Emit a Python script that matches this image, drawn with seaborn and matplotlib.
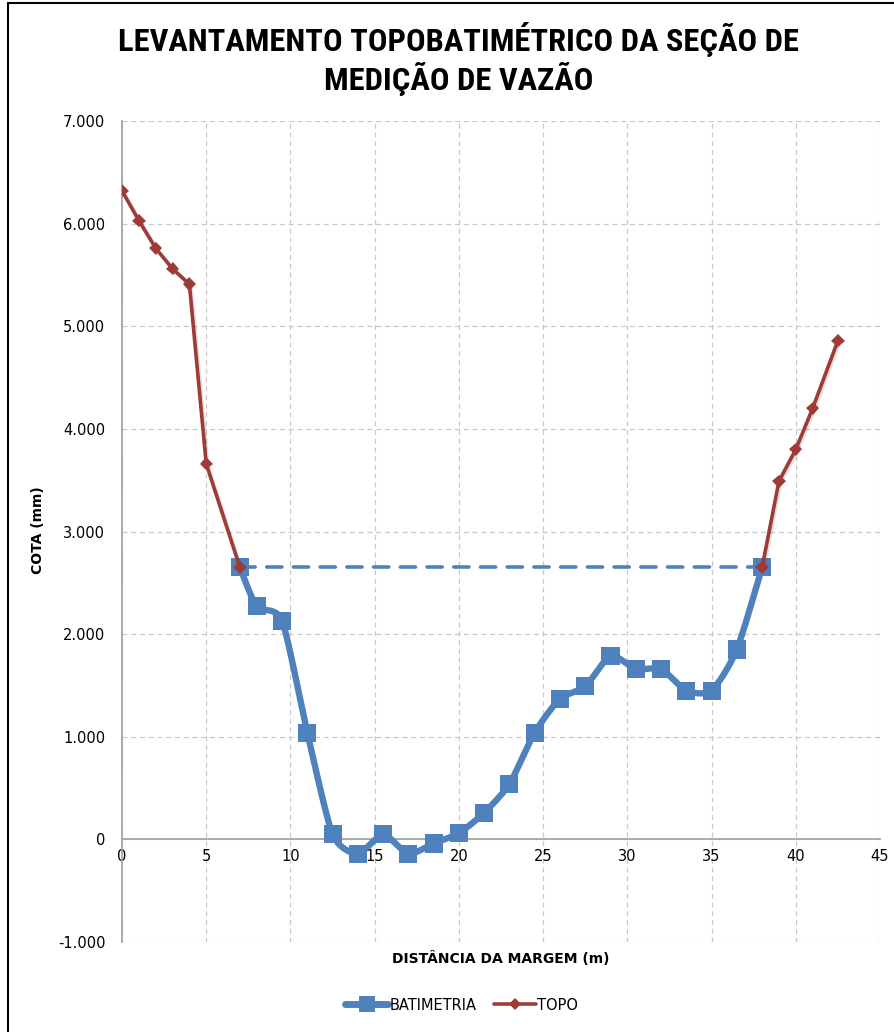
import numpy as np
import pandas as pd
import matplotlib
matplotlib.use("Agg")
import matplotlib.pyplot as plt
import matplotlib.patheffects as pe
from matplotlib.lines import Line2D
from matplotlib.ticker import FuncFormatter, MultipleLocator
import seaborn as sns

# Perfil topográfico das margens (distância em m, cota em mm)
topo_esq_x = [0, 1, 2, 3, 4, 5, 7]
topo_esq_y = [6320, 6030, 5760, 5560, 5410, 3660, 2650]
topo_dir_x = [38, 39, 40, 41, 42.5]
topo_dir_y = [2650, 3490, 3800, 4200, 4860]

# Batimetria do leito
bat_x = [7, 8, 9.5, 11, 12.5, 14, 15.5, 17, 18.5, 20, 21.5, 23, 24.5,
         26, 27.5, 29, 30.5, 32, 33.5, 35, 36.5, 38]
bat_y = [2650, 2270, 2130, 1040, 50, -140, 50, -140, -40, 60, 260, 540, 1040,
         1370, 1490, 1790, 1660, 1660, 1450, 1450, 1850, 2650]

# Nível d'água
nivel_x = [7, 38]
nivel_y = [2650, 2650]

titulo = "LEVANTAMENTO TOPOBATIMÉTRICO DA SEÇÃO DE\nMEDIÇÃO DE VAZÃO"
rotulo_x = "DISTÂNCIA DA MARGEM (m)"
rotulo_y = "COTA (mm)"

AZUL = "#4F81BD"
VERMELHO = "#9E3B37"
GRADE = "#C8C8C8"
EIXO = "#A6A6A6"

sns.set_theme(style="white")
plt.rcParams["font.family"] = ["DejaVu Sans"]
plt.rcParams["text.color"] = "#000000"
plt.rcParams["axes.labelcolor"] = "#000000"


def suavizar(x, y, n=20, s=0.35):
    """Spline cardinal (Hermite) passando pelos pontos, para a linha suavizada."""
    p = np.column_stack([x, y]).astype(float)
    ext = np.vstack([p[0], p, p[-1]])
    m = s * (ext[2:] - ext[:-2])
    t = np.linspace(0, 1, n)[:, None]
    h00 = 2 * t ** 3 - 3 * t ** 2 + 1
    h10 = t ** 3 - 2 * t ** 2 + t
    h01 = -2 * t ** 3 + 3 * t ** 2
    h11 = t ** 3 - t ** 2
    seg = []
    for i in range(len(p) - 1):
        c = h00 * p[i] + h10 * m[i] + h01 * p[i + 1] + h11 * m[i + 1]
        seg.append(c if i == 0 else c[1:])
    c = np.vstack(seg)
    return c[:, 0], c[:, 1]


fig = plt.figure(figsize=(8.94, 10.32), dpi=100)
ax = fig.add_axes([122 / 894, 1 - 942 / 1032, 758 / 894, 821 / 1032])

sombra = [pe.SimpleLineShadow(offset=(1.2, -1.2), shadow_color="#000000", alpha=0.12), pe.Normal()]

# linha d'água tracejada
ax.plot(nivel_x, nivel_y, color=AZUL, lw=2.6, dashes=(4.2, 3.2),
        dash_capstyle="round", zorder=3)

# batimetria suavizada + marcadores
sx, sy = suavizar(bat_x, bat_y)
df_curva = pd.DataFrame({"x": sx, "y": sy})
sns.lineplot(data=df_curva, x="x", y="y", sort=False, estimator=None, color=AZUL,
             lw=4.6, ax=ax, zorder=4)
df_bat = pd.DataFrame({"x": bat_x, "y": bat_y})
sns.lineplot(data=df_bat, x="x", y="y", sort=False, estimator=None, color=AZUL,
             lw=0, marker="s", markersize=13, markeredgewidth=0, ax=ax, zorder=5,
             path_effects=sombra)

# topografia das margens
for tx, ty in [(topo_esq_x, topo_esq_y), (topo_dir_x, topo_dir_y)]:
    df_t = pd.DataFrame({"x": tx, "y": ty})
    sns.lineplot(data=df_t, x="x", y="y", sort=False, estimator=None, color=VERMELHO,
                 lw=2.6, marker="D", markersize=6.8, markeredgewidth=0, ax=ax, zorder=6,
                 path_effects=sombra)

ax.set_xlim(0, 45)
ax.set_ylim(-1000, 7000)
ax.xaxis.set_major_locator(MultipleLocator(5))
ax.yaxis.set_major_locator(MultipleLocator(1000))
ax.yaxis.set_major_formatter(FuncFormatter(lambda v, p: f"{v:,.0f}".replace(",", ".")))
ax.xaxis.set_major_formatter(FuncFormatter(lambda v, p: f"{v:.0f}"))

ax.grid(True, color=GRADE, lw=0.9, ls=(0, (4, 3)))
ax.set_axisbelow(True)
for s in ["top", "right"]:
    ax.spines[s].set_visible(False)
ax.spines["bottom"].set_position(("data", 0))
ax.spines["bottom"].set_color(EIXO)
ax.spines["bottom"].set_linewidth(1.3)
ax.spines["left"].set_color(EIXO)
ax.spines["left"].set_linewidth(1.3)
ax.tick_params(axis="both", length=0, labelsize=10.5, colors="#000000",
               labelfontfamily="DejaVu Sans")
ax.tick_params(axis="y", pad=12)
ax.tick_params(axis="x", pad=7)

ax.set_xlabel(rotulo_x, fontsize=10, fontweight="bold", family="DejaVu Sans")
ax.xaxis.set_label_coords(0.5, -0.011)
ax.set_ylabel(rotulo_y, fontsize=10, fontweight="bold", family="DejaVu Sans")
ax.yaxis.set_label_coords(-0.1016, 0.502)
ax.xaxis.label.set_verticalalignment("top")

fig.text(459 / 894, 1 - 59 / 1032, titulo, ha="center", va="center",
         fontsize=23.4, fontweight="bold", linespacing=1.17, color="#000000",
         family=["Roboto Condensed", "Roboto", "DejaVu Sans"])

handles = [
    Line2D([], [], color=AZUL, lw=5, marker="s", markersize=11, markeredgewidth=0),
    Line2D([], [], color=VERMELHO, lw=2.6, marker="D", markersize=6, markeredgewidth=0),
]
fig.legend(handles, ["BATIMETRIA", "TOPO"], loc="center", ncol=2, frameon=False,
           bbox_to_anchor=(462 / 894, 1 - 1005 / 1032),
           prop={"family": "DejaVu Sans", "size": 10.5},
           handlelength=2.9, handletextpad=0.1, columnspacing=1.2)

# moldura do gráfico
fig.add_artist(Line2D([8 / 894, 8 / 894], [0, 1 - 3 / 1032], transform=fig.transFigure,
                      color="#000000", lw=1.5))
fig.add_artist(Line2D([8 / 894, 1], [1 - 3 / 1032, 1 - 3 / 1032], transform=fig.transFigure,
                      color="#000000", lw=1.5))

fig.savefig("out.png", dpi=100)
